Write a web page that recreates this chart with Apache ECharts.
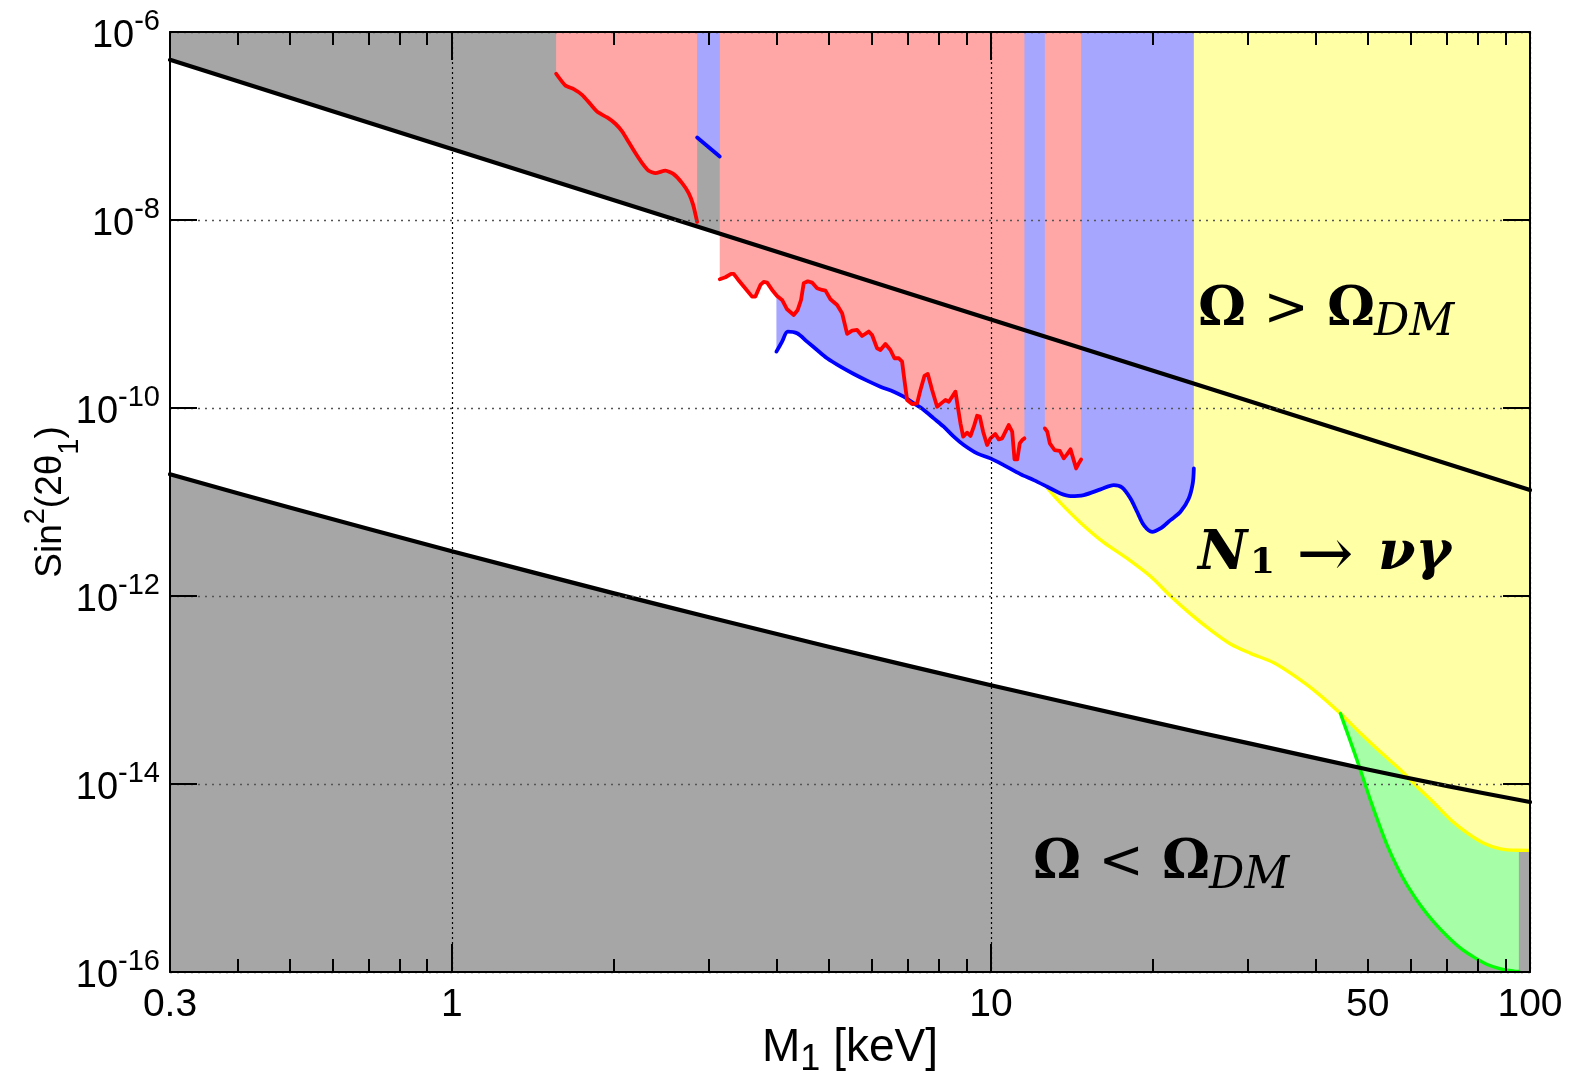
<!DOCTYPE html>
<html><head><meta charset="utf-8">
<script src="https://cdn.jsdelivr.net/npm/echarts@6/dist/echarts.min.js"></script>
<style>html,body{margin:0;padding:0;background:#fff}#c{width:1578px;height:1074px}</style>
</head><body><div id="c"></div>
<script>
// ---------- data (M1 in keV, log10 of sin^2(2θ1)) ----------
const xTickLabelValues = [0.3, 1, 10, 50, 100];
const xTickLabels = ['0.3', '1', '10', '50', '100'];
const xMajorTicks = [1, 10, 100];
const xMinorTicks = [0.4,0.5,0.6,0.7,0.8,0.9,2,3,4,5,6,7,8,9,20,30,40,50,60,70,80,90];
const yTickExponents = [-16,-14,-12,-10,-8,-6];

const upperBound = [[0.3,-6.296],[1,-7.245],[3,-8.110],[10,-9.058],[30,-9.924],[100,-10.873]];
const lowerBound = [[0.3,-10.705],[0.5,-11.058],[1,-11.523],[2,-11.972],[3,-12.226],[5,-12.539],[10,-12.949],[20,-13.342],[30,-13.565],[50,-13.845],[70,-14.02],[100,-14.192]];

const redA = [[1.561,-6.444],[1.624,-6.569],[1.683,-6.607],[1.744,-6.668],[1.807,-6.767],[1.864,-6.852],[1.941,-6.909],[2.011,-6.976],[2.069,-7.058],[2.128,-7.171],[2.190,-7.288],[2.254,-7.395],[2.318,-7.477],[2.385,-7.501],[2.490,-7.474],[2.579,-7.512],[2.674,-7.608],[2.750,-7.714],[2.803,-7.839],[2.851,-8.02]];
const blueSeg = [[2.851,-7.122],[3.140,-7.325]];
const redB = [[3.140,-8.630],[3.217,-8.609],[3.296,-8.573],[3.333,-8.573],[3.391,-8.630],[3.479,-8.708],[3.605,-8.815],[3.657,-8.815],[3.736,-8.691],[3.789,-8.659],[3.844,-8.666],[3.927,-8.744],[4.011,-8.808],[4.098,-8.850],[4.186,-8.950],[4.307,-9.010],[4.381,-8.957],[4.444,-8.850],[4.495,-8.673],[4.573,-8.652],[4.658,-8.666],[4.759,-8.726],[4.862,-8.744],[4.932,-8.751],[5.038,-8.843],[5.184,-8.904],[5.296,-8.992],[5.410,-9.212],[5.527,-9.177],[5.646,-9.170],[5.768,-9.234],[5.934,-9.187],[6.019,-9.223],[6.149,-9.365],[6.237,-9.383],[6.372,-9.319],[6.510,-9.383],[6.622,-9.471],[6.745,-9.471],[6.842,-9.507],[6.910,-9.702],[6.990,-9.915],[7.141,-9.958],[7.295,-9.951],[7.400,-9.809],[7.527,-9.659],[7.636,-9.638],[7.778,-9.809],[7.946,-9.986],[8.118,-9.943],[8.235,-9.915],[8.353,-9.933],[8.472,-9.880],[8.594,-9.826],[8.681,-9.986],[8.779,-10.163],[8.881,-10.305],[9.034,-10.263],[9.163,-10.298],[9.295,-10.199],[9.426,-10.082],[9.535,-10.092],[9.672,-10.252],[9.838,-10.394],[9.979,-10.323],[10.19,-10.277],[10.34,-10.334],[10.49,-10.323],[10.64,-10.252],[10.79,-10.181],[10.95,-10.252],[11.06,-10.547],[11.19,-10.547],[11.31,-10.376],[11.43,-10.341],[11.54,-10.323]];
const redC = [[12.59,-10.217],[12.72,-10.252],[12.86,-10.376],[13.12,-10.447],[13.42,-10.455],[13.65,-10.536],[13.85,-10.490],[14.05,-10.440],[14.21,-10.536],[14.39,-10.643],[14.55,-10.589],[14.70,-10.547]];
const blueMain = [[4.000,-9.400],[4.098,-9.294],[4.199,-9.187],[4.369,-9.205],[4.560,-9.294],[4.759,-9.383],[4.967,-9.471],[5.259,-9.560],[5.567,-9.638],[5.892,-9.709],[6.237,-9.773],[6.603,-9.826],[6.891,-9.880],[7.192,-9.950],[7.506,-10.021],[7.833,-10.110],[8.174,-10.199],[8.531,-10.305],[8.905,-10.394],[9.426,-10.483],[9.979,-10.536],[10.56,-10.607],[11.34,-10.703],[12.01,-10.767],[12.72,-10.838],[13.46,-10.909],[14.05,-10.937],[14.87,-10.926],[15.97,-10.866],[16.90,-10.820],[17.51,-10.845],[18.15,-10.962],[18.67,-11.104],[19.21,-11.246],[19.91,-11.317],[20.63,-11.281],[21.53,-11.193],[22.47,-11.104],[23.28,-10.962],[23.68,-10.802],[23.79,-10.643]];
const yellowCurve = [[12.72,-10.85],[13.46,-11.01],[14.66,-11.22],[16.19,-11.43],[17.89,-11.60],[19.76,-11.79],[21.53,-12.00],[23.45,-12.19],[25.54,-12.36],[27.82,-12.51],[30.3,-12.61],[33.47,-12.71],[36.47,-12.845],[40.29,-13.03],[44.5,-13.25],[48.48,-13.46],[52.8,-13.66],[57.52,-13.85],[61.76,-14.03],[66.32,-14.20],[71.21,-14.38],[76.44,-14.52],[82.1,-14.63],[88.18,-14.69],[94.67,-14.705],[100,-14.706]];
const greenCurve = [[44.5,-13.25],[46.12,-13.50],[47.78,-13.748],[49.17,-13.961],[50.59,-14.174],[52.43,-14.422],[54.33,-14.653],[56.70,-14.884],[59.18,-15.079],[62.66,-15.292],[66.32,-15.469],[70.22,-15.619],[74.31,-15.746],[78.67,-15.842],[83.28,-15.920],[88.18,-15.966],[93.33,-15.991],[95.35,-15.995]];

// ---------- build ----------
const L = v => Math.log10(v);
const pts = arr => arr.map(p => [L(p[0]), p[1]]);
const X_MIN = L(0.3), X_MAX = L(100);
const Y_MIN = yTickExponents[0], Y_MAX = yTickExponents[yTickExponents.length - 1];
const GRAY = '#a6a6a6', PINK = '#ffa6a6', LBLUE = '#a6a6ff', LYEL = '#ffffa6', LGRN = '#a6ffa6';
const SANS = 'Liberation Sans, Arial, sans-serif';
const SERIF = 'DejaVu Serif, serif';

function area(data, color, origin, smooth) {
  return { type: 'line', xAxisIndex: 0, yAxisIndex: 0, data: pts(data), symbol: 'none', showSymbol: false,
    smooth: smooth || false, lineStyle: { width: 0, opacity: 0 }, areaStyle: { color: color, opacity: 1, origin: origin },
    silent: true, z: 2 };
}
function curve(data, color, width, smooth) {
  return { type: 'line', xAxisIndex: 0, yAxisIndex: 0, data: pts(data), symbol: 'none', showSymbol: false,
    smooth: smooth || false, lineStyle: { width: width, color: color, cap: 'round', join: 'round' },
    silent: true, z: 3 };
}
function fmtX(v) {
  let best = 0, bd = 1e9;
  xTickLabelValues.forEach((t, i) => { const d = Math.abs(L(t) - v); if (d < bd) { bd = d; best = i; } });
  return xTickLabels[best];
}

const axisLineStyle = { color: '#000', width: 2 };
const tickStyle = { color: '#000', width: 2 };

const xAxes = [
  { gridIndex: 0, type: 'value', position: 'bottom', min: X_MIN, max: X_MAX, z: 10,
    axisLine: { show: true, onZero: false, lineStyle: axisLineStyle },
    axisTick: { show: true, inside: true, length: 28, customValues: xMajorTicks.map(L), lineStyle: tickStyle },
    axisLabel: { show: true, customValues: xTickLabelValues.map(L), formatter: fmtX, margin: 14,
      fontSize: 39, color: '#000', fontFamily: SANS },
    splitLine: { show: true, lineStyle: { color: '#000', width: 1.2, type: [2, 3] } },
    name: '{m|M}{s|1}{m| [keV]}', nameLocation: 'middle', nameGap: 53, nameMoveOverlap: false,
    nameTextStyle: { rich: {
      m: { fontSize: 46, lineHeight: 46, fontFamily: SANS, color: '#000' },
      s: { fontSize: 36, lineHeight: 36, fontFamily: SANS, color: '#000', padding: [24, 0, 0, 0] } } } },
  { gridIndex: 0, type: 'value', position: 'top', min: X_MIN, max: X_MAX, z: 10,
    axisLine: { show: true, onZero: false, lineStyle: axisLineStyle },
    axisTick: { show: true, inside: true, length: 28, customValues: xMajorTicks.map(L), lineStyle: tickStyle },
    axisLabel: { show: false }, splitLine: { show: false } },
  { gridIndex: 1, type: 'value', position: 'bottom', min: X_MIN, max: X_MAX, z: 10,
    axisLine: { show: false, onZero: false },
    axisTick: { show: true, inside: true, length: 13, customValues: xMinorTicks.map(L), lineStyle: tickStyle },
    axisLabel: { show: false }, splitLine: { show: false } },
  { gridIndex: 1, type: 'value', position: 'top', min: X_MIN, max: X_MAX, z: 10,
    axisLine: { show: false, onZero: false },
    axisTick: { show: true, inside: true, length: 13, customValues: xMinorTicks.map(L), lineStyle: tickStyle },
    axisLabel: { show: false }, splitLine: { show: false } }
];

const yAxes = [
  { gridIndex: 0, type: 'value', position: 'left', min: Y_MIN, max: Y_MAX, interval: 2, z: 10,
    axisLine: { show: true, onZero: false, lineStyle: axisLineStyle },
    axisTick: { show: true, inside: true, length: 27, lineStyle: tickStyle },
    axisLabel: { show: true, margin: 10, formatter: v => '{b|10}{s|' + Math.round(v) + '}',
      rich: {
        b: { fontSize: 38, lineHeight: 38, fontFamily: SANS, color: '#000', padding: [10, 0, 0, 0] },
        s: { fontSize: 29, lineHeight: 29, fontFamily: SANS, color: '#000', padding: [0, 0, 20, 0] } } },
    splitLine: { show: true, lineStyle: { color: '#555', width: 1.4, type: [2, 5] } },
    name: '{m|Sin}{p|2}{m|(2θ}{s|1}{m|)}', nameLocation: 'middle', nameGap: 101, nameMoveOverlap: false,
    nameTextStyle: { rich: {
      m: { fontSize: 37, lineHeight: 37, fontFamily: SANS, color: '#000' },
      p: { fontSize: 29, lineHeight: 29, fontFamily: SANS, color: '#000', padding: [0, 0, 29, 0] },
      s: { fontSize: 29, lineHeight: 29, fontFamily: SANS, color: '#000', padding: [38, 0, 0, 0] } } } },
  { gridIndex: 0, type: 'value', position: 'right', min: Y_MIN, max: Y_MAX, interval: 2, z: 10,
    axisLine: { show: true, onZero: false, lineStyle: axisLineStyle },
    axisTick: { show: true, inside: true, length: 27, lineStyle: tickStyle },
    axisLabel: { show: false }, splitLine: { show: false } },
  { gridIndex: 1, type: 'value', show: false, min: Y_MIN, max: Y_MAX }
];

const series = [
  area(upperBound, GRAY, 'end'),
  area(lowerBound, GRAY, 'start', 0.3),
  area(greenCurve, LGRN, 'end', 0.3),
  area(yellowCurve, LYEL, 'end', 0.3),
  area(blueMain, LBLUE, 'end', 0.3),
  area(blueSeg, LBLUE, 'end'),
  area(redA, PINK, 'end', 0.2),
  area(redB, PINK, 'end'),
  area(redC, PINK, 'end'),
  curve(yellowCurve, '#ffff00', 3.4, 0.3),
  curve(greenCurve, '#00ff00', 3.4, 0.3),
  curve(blueMain, '#0000ff', 3.8, 0.3),
  curve(blueSeg, '#0000ff', 3.8),
  curve(redA, '#ff0000', 3.8, 0.2),
  curve(redB, '#ff0000', 3.8),
  curve(redC, '#ff0000', 3.8),
  curve(upperBound, '#000', 4.2),
  curve(lowerBound, '#000', 4.2, 0.3)
];

const richMath = {
  O: { fontFamily: SERIF, fontWeight: 'bold', fontSize: 54, lineHeight: 54, width: 46, color: '#000' },
  op: { fontFamily: SERIF, fontSize: 54, lineHeight: 54, width: 84, align: 'center', color: '#000' },
  d: { fontFamily: SERIF, fontStyle: 'italic', fontSize: 44, lineHeight: 44, color: '#000', padding: [26, 0, 0, 0] },
  N: { fontFamily: SERIF, fontWeight: 'bold', fontStyle: 'italic', fontSize: 54, lineHeight: 54, width: 52, color: '#000' },
  n1: { fontFamily: SERIF, fontWeight: 'bold', fontSize: 36, lineHeight: 36, width: 22, color: '#000', padding: [18, 0, 0, 0] },
  ar: { fontFamily: SERIF, fontSize: 68, lineHeight: 54, width: 106, align: 'center', color: '#000', padding: [6, 0, 0, 0] },
  g: { fontFamily: SERIF, fontWeight: 'bold', fontStyle: 'italic', fontSize: 54, lineHeight: 54, color: '#000' }
};
function mathText(x, y, text) {
  return { type: 'text', x: x, y: y, z: 100, silent: true,
    style: { text: text, rich: richMath, align: 'left', verticalAlign: 'middle', textAlign: 'left', textVerticalAlign: 'middle', fill: '#000' } };
}

const option = {
  animation: false,
  backgroundColor: '#fff',
  textStyle: { fontFamily: SANS },
  grid: [
    { left: 170, right: 48, top: 32, bottom: 102, containLabel: false, outerBoundsMode: 'none' },
    { left: 170, right: 48, top: 32, bottom: 102, containLabel: false, outerBoundsMode: 'none' }
  ],
  xAxis: xAxes,
  yAxis: yAxes,
  series: series,
  graphic: [
    mathText(1198, 311, '{O|Ω}{op|>}{O|Ω}{d|DM}'),
    mathText(1198, 555, '{N|N}{n1|1}{ar|→}{g|νγ}'),
    mathText(1033, 864, '{O|Ω}{op|<}{O|Ω}{d|DM}')
  ]
};
const chart = echarts.init(document.getElementById('c'));
chart.setOption(option);
</script>
</body></html>
